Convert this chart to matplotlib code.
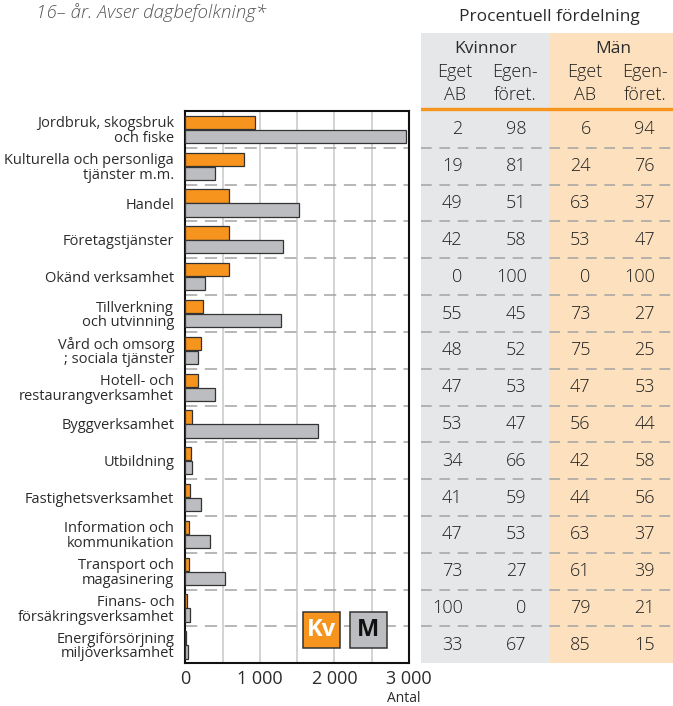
import matplotlib
matplotlib.use("Agg")
import matplotlib.pyplot as plt
from matplotlib.patches import Rectangle

plt.rcParams["font.family"] = ["Open Sans", "DejaVu Sans"]

categories = [
    "Jordbruk, skogsbruk\noch fiske",
    "Kulturella och personliga\ntjänster m.m.",
    "Handel",
    "Företagstjänster",
    "Okänd verksamhet",
    "Tillverkning\noch utvinning",
    "Vård och omsorg\n; sociala tjänster",
    "Hotell- och\nrestaurangverksamhet",
    "Byggverksamhet",
    "Utbildning",
    "Fastighetsverksamhet",
    "Information och\nkommunikation",
    "Transport och\nmagasinering",
    "Finans- och\nförsäkringsverksamhet",
    "Energiförsörjning\nmiljöverksamhet",
]
kvinnor = [930, 790, 590, 590, 580, 240, 215, 170, 90, 72, 63, 54, 45, 23, 13]
man = [2955, 405, 1525, 1310, 270, 1290, 165, 395, 1775, 95, 215, 325, 530, 63, 40]

kv_eget_ab = [2, 19, 49, 42, 0, 55, 48, 47, 53, 34, 41, 47, 73, 100, 33]
kv_egenforet = [98, 81, 51, 58, 100, 45, 52, 53, 47, 66, 59, 53, 27, 0, 67]
m_eget_ab = [6, 24, 63, 53, 0, 73, 75, 47, 56, 42, 44, 63, 61, 79, 85]
m_egenforet = [94, 76, 37, 47, 100, 27, 25, 53, 44, 58, 56, 37, 39, 21, 15]

xticks = [0, 1000, 2000, 3000]
xtick_labels = ["0", "1 000", "2 000", "3 000"]

ORANGE = "#f7941e"
GREY = "#bcbdc0"
EDGE = "#333333"
TXT = "#2b2b2b"
BG_GREY = "#e6e7e9"
BG_ORANGE = "#fde1bf"
DASH = "#a3a3a3"

W, H = 673, 706
fig = plt.figure(figsize=(W / 100, H / 100), dpi=100)

# bar chart
ax = fig.add_axes([185.3 / W, 1 - 663.3 / H, 223.7 / W, 552.3 / H])
y = list(range(len(categories)))
bh = 0.36
ax.barh([i - 0.19 for i in y], kvinnor, height=bh, color=ORANGE, edgecolor=EDGE, linewidth=0.9, zorder=3)
ax.barh([i + 0.19 for i in y], man, height=bh, color=GREY, edgecolor=EDGE, linewidth=0.9, zorder=3)
ax.set_xlim(0, 3000)
ax.set_ylim(len(categories) - 0.5, -0.5)
ax.set_xticks(xticks)
ax.set_xticklabels(xtick_labels, fontsize=13, color=TXT)
ax.set_xticks([500, 1500, 2500], minor=True)
ax.set_yticks(y)
ax.set_yticklabels(categories, fontsize=10.5, color=TXT, linespacing=0.95)
ax.tick_params(axis="both", which="both", length=0)
ax.tick_params(axis="y", pad=8)
ax.tick_params(axis="x", pad=5)
ax.grid(axis="x", which="both", color="#c8c8c8", linewidth=1.1, zorder=0)
ax.set_axisbelow(True)
for i in range(len(categories) - 1):
    ax.axhline(i + 0.5, color=DASH, linewidth=1.1, dashes=(8, 5), zorder=1)
for s in ax.spines.values():
    s.set_linewidth(1.5)
    s.set_color("#111111")

# Kv / M boxes
for x0, fc, lab, tc in [(0.5275, ORANGE, "Kv", "white"), (0.737, GREY, "M", "#111111")]:
    ax.add_patch(Rectangle((x0, 0.0282), 0.163, 0.0652, transform=ax.transAxes,
                           facecolor=fc, edgecolor=EDGE, linewidth=1.1, zorder=5))
    ax.text(x0 + 0.0815, 0.0608, lab, transform=ax.transAxes, ha="center", va="center",
            fontsize=17, fontweight="bold", color=tc, zorder=6)

fig.text(404 / W, 1 - 698 / H, "Antal", ha="center", va="center", fontsize=10, color=TXT)

# percentage table, same rows as the bars
row_h = 552.3 / 15
top = -0.5 - (111 - 33) / row_h
axt = fig.add_axes([421 / W, 1 - 663.3 / H, 252 / W, (663.3 - 33) / H])
axt.set_xlim(0, 252)
axt.set_ylim(14.5, top)
axt.axis("off")
axt.axvspan(0, 129, color=BG_GREY, zorder=0)
axt.axvspan(129, 252, color=BG_ORANGE, zorder=0)
axt.axhline(-0.5 - 2 / row_h, color=ORANGE, linewidth=2.4, zorder=2)
for i in range(len(categories) - 1):
    axt.axhline(i + 0.5, color=DASH, linewidth=1.1, dashes=(7, 5), zorder=1)

cols = [(41.7, kv_eget_ab), (105.7, kv_egenforet), (169.7, m_eget_ab), (234, m_egenforet)]
for xr, vals in cols:
    for i, v in enumerate(vals):
        axt.text(xr, i, str(v), ha="right", va="center", fontsize=13, color="#1f1f1f", fontweight="light")


def py(px):
    return (px - 111) / row_h - 0.5


axt.text(65, py(49), "Kvinnor", ha="center", va="center", fontsize=12.5, color=TXT)
axt.text(192, py(49), "Män", ha="center", va="center", fontsize=12.5, color=TXT)
for xc, l1, l2 in [(34, "Eget", "AB"), (94, "Egen-", "föret."), (164, "Eget", "AB"), (224, "Egen-", "föret.")]:
    axt.text(xc, py(72), l1, ha="center", va="center", fontsize=13, color="#1f1f1f", fontweight="light")
    axt.text(xc, py(95), l2, ha="center", va="center", fontsize=13, color="#1f1f1f", fontweight="light")

fig.text(549 / W, 1 - 17 / H, "Procentuell fördelning", ha="center", va="center", fontsize=12.5, color=TXT)
fig.text(36 / W, 1 - 13 / H, "16– år. Avser dagbefolkning*", ha="left", va="center",
         fontsize=13.5, style="italic", color="#555555", fontweight="light")

fig.savefig("out.png", dpi=100)
